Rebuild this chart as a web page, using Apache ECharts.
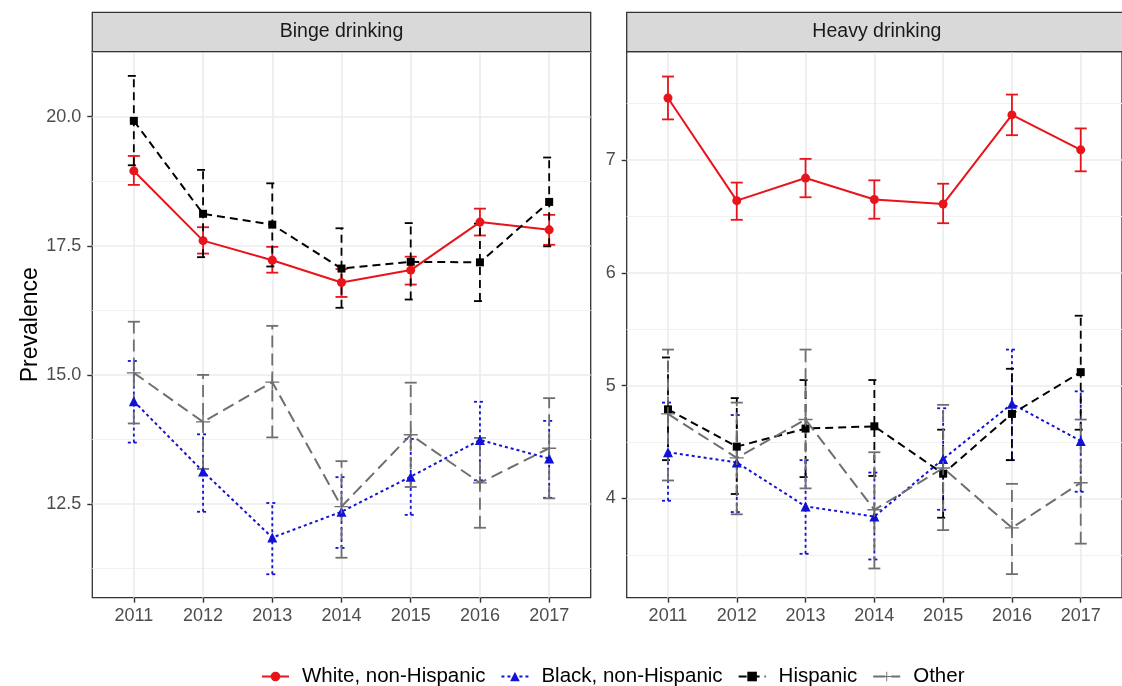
<!DOCTYPE html>
<html><head><meta charset="utf-8">
<script src="https://cdn.jsdelivr.net/npm/echarts@6/dist/echarts.min.js"></script>
<style>html,body{margin:0;padding:0;background:#fff}#c{width:1122px;height:686px}</style>
</head><body><div id="c"></div>
<script>
// ---------- data ----------
const years = [2011, 2012, 2013, 2014, 2015, 2016, 2017];
const groups = ['White, non-Hispanic', 'Black, non-Hispanic', 'Hispanic', 'Other'];
const panels = ['Binge drinking', 'Heavy drinking'];

// Binge drinking
const bingeWhite   = [18.95, 17.60, 17.22, 16.79, 17.03, 17.96, 17.81];
const bingeWhiteLo = [18.68, 17.35, 16.98, 16.51, 16.75, 17.70, 17.52];
const bingeWhiteHi = [19.24, 17.86, 17.48, 17.05, 17.29, 18.22, 18.10];
const bingeBlack   = [14.49, 13.13, 11.85, 12.35, 13.03, 13.74, 13.38];
const bingeBlackLo = [13.69, 12.35, 11.14, 11.65, 12.29, 12.96, 12.62];
const bingeBlackHi = [15.27, 13.85, 12.52, 13.02, 13.76, 14.48, 14.11];
const bingeHisp    = [19.92, 18.12, 17.91, 17.06, 17.19, 17.18, 18.35];
const bingeHispLo  = [19.06, 17.28, 17.10, 16.30, 16.46, 16.43, 17.49];
const bingeHispHi  = [20.79, 18.97, 18.71, 17.84, 17.94, 17.93, 19.21];
const bingeOther   = [15.04, 14.09, 14.86, 12.45, 13.84, 12.91, 13.58];
const bingeOtherLo = [14.06, 13.18, 13.79, 11.46, 12.83, 12.04, 12.61];
const bingeOtherHi = [16.03, 15.00, 15.95, 13.33, 14.85, 13.78, 14.55];

// Heavy drinking
const heavyWhite   = [7.55, 6.64, 6.84, 6.65, 6.61, 7.40, 7.09];
const heavyWhiteLo = [7.36, 6.47, 6.67, 6.48, 6.44, 7.22, 6.90];
const heavyWhiteHi = [7.74, 6.80, 7.01, 6.82, 6.79, 7.58, 7.28];
const heavyBlack   = [4.41, 4.32, 3.93, 3.84, 4.35, 4.84, 4.51];
const heavyBlackLo = [3.98, 3.88, 3.51, 3.46, 3.90, 4.34, 4.06];
const heavyBlackHi = [4.85, 4.74, 4.34, 4.23, 4.80, 5.32, 4.95];
const heavyHisp    = [4.79, 4.46, 4.62, 4.64, 4.22, 4.75, 5.12];
const heavyHispLo  = [4.34, 4.04, 4.19, 4.20, 3.83, 4.34, 4.61];
const heavyHispHi  = [5.25, 4.89, 5.05, 5.05, 4.61, 5.15, 5.62];
const heavyOther   = [4.75, 4.36, 4.70, 3.90, 4.27, 3.74, 4.14];
const heavyOtherLo = [4.16, 3.86, 4.09, 3.38, 3.72, 3.33, 3.60];
const heavyOtherHi = [5.32, 4.85, 5.32, 4.41, 4.83, 4.13, 4.70];

// axis ticks
const bingeTicks = [12.5, 15.0, 17.5, 20.0];
const bingeMinor = [11.25, 13.75, 16.25, 18.75, 21.25];
const heavyTicks = [4, 5, 6, 7];
const heavyMinor = [3.5, 4.5, 5.5, 6.5, 7.5];

// ---------- layout / style ----------
const FONT = 'Liberation Sans, Arial, Helvetica, sans-serif';
const grids = [
  {left: 92.3, top: 51.7, width: 498.4, height: 546},
  {left: 626.7, top: 51.7, width: 500.3, height: 546}
];
const yRange = [[10.686, 21.259], [3.121, 7.96]];
const styles = [
  {color: '#e8141b', dash: 'solid', ldash: null, symbol: 'circle', size: 9},
  {color: '#1212d6', dash: [3, 3], ldash: [3, 3], symbol: 'triangle', size: 10},
  {color: '#000000', dash: [8, 5], ldash: [8, 5], symbol: 'rect', size: 8},
  {color: '#6f6f6f', dash: [12, 6], ldash: [12, 6], symbol: 'path://M0,6.3H14V7.7H0Z M6.3,0H7.7V14H6.3Z', size: 14}
];
const panelData = [
  [[bingeWhite, bingeWhiteLo, bingeWhiteHi], [bingeBlack, bingeBlackLo, bingeBlackHi],
   [bingeHisp, bingeHispLo, bingeHispHi], [bingeOther, bingeOtherLo, bingeOtherHi]],
  [[heavyWhite, heavyWhiteLo, heavyWhiteHi], [heavyBlack, heavyBlackLo, heavyBlackHi],
   [heavyHisp, heavyHispLo, heavyHispHi], [heavyOther, heavyOtherLo, heavyOtherHi]]
];

const xAxes = [], yAxes = [], series = [], graphics = [];
grids.forEach((g, p) => {
  xAxes.push({
    type: 'value', gridIndex: p, min: 2010.4, max: 2017.6,
    axisLine: {show: false},
    axisTick: {show: true, customValues: years, length: 5, lineStyle: {color: '#333', width: 1.4}},
    axisLabel: {customValues: years, fontSize: 18, color: '#4d4d4d', margin: 9, fontFamily: FONT,
                formatter: v => String(Math.round(v))},
    splitLine: {show: true, lineStyle: {color: '#ebebeb', width: 1.6}}
  });
  const ticks = p === 0 ? bingeTicks : heavyTicks;
  const minor = p === 0 ? bingeMinor : heavyMinor;
  yAxes.push({
    type: 'value', gridIndex: p, min: yRange[p][0], max: yRange[p][1], position: 'left',
    axisLine: {show: false},
    axisTick: {show: true, customValues: ticks, length: 5, lineStyle: {color: '#333', width: 1.4}},
    axisLabel: {customValues: ticks, fontSize: 18, color: '#4d4d4d', margin: 11, fontFamily: FONT,
                formatter: v => p === 0 ? v.toFixed(1) : String(Math.round(v))},
    splitLine: {show: true, lineStyle: {color: '#ebebeb', width: 1.6}},
    name: p === 0 ? 'Prevalence' : '', nameLocation: 'middle', nameGap: 48,
    nameTextStyle: {fontSize: 23, color: '#000', fontFamily: FONT}
  });
  yAxes.push({
    type: 'value', gridIndex: p, min: yRange[p][0], max: yRange[p][1], position: 'left',
    axisLine: {show: false}, axisLabel: {show: false},
    axisTick: {show: false, customValues: minor},
    splitLine: {show: true, lineStyle: {color: '#f1f1f1', width: 1.1}}
  });
  // strip
  graphics.push({type: 'rect', z: 10, shape: {x: g.left, y: 12.3, width: g.width, height: g.top - 12.3},
                 style: {fill: '#d9d9d9', stroke: '#333', lineWidth: 1.3}});
  graphics.push({type: 'text', z: 11, x: g.left + g.width / 2, y: (12.3 + g.top) / 2,
                 style: {text: panels[p], fontSize: 19.5, fill: '#1a1a1a', fontFamily: FONT,
                         align: 'center', verticalAlign: 'middle'}});
});

grids.forEach((g, p) => {
  groups.forEach((name, k) => {
    const st = styles[k];
    const lo = panelData[p][k][1], hi = panelData[p][k][2];
    series.push({
      name: name + ' CI', type: 'custom', xAxisIndex: p, yAxisIndex: p * 2, z: 3 + k,
      encode: {x: 0, y: [1, 2]},
      data: years.map((y, i) => [y, lo[i], hi[i]]),
      renderItem: (params, api) => {
        const x = api.value(0);
        const a = api.coord([x, api.value(1)]);
        const b = api.coord([x, api.value(2)]);
        const hw = 6;
        const s = {stroke: st.color, lineWidth: 1.8, lineDash: st.ldash, fill: null};
        return {type: 'group', children: [
          {type: 'line', shape: {x1: a[0], y1: a[1], x2: b[0], y2: b[1]}, style: s},
          {type: 'line', shape: {x1: b[0] - hw, y1: b[1], x2: b[0] + hw, y2: b[1]}, style: s},
          {type: 'line', shape: {x1: a[0] - hw, y1: a[1], x2: a[0] + hw, y2: a[1]}, style: s}
        ]};
      },
      silent: true, animation: false
    });
  });
});
const lineSeries = [];
grids.forEach((g, p) => {
  groups.forEach((name, k) => {
    const vals = panelData[p][k][0];
    const st = styles[k];
    lineSeries.push({
      name: name, type: 'line', xAxisIndex: p, yAxisIndex: p * 2, z: 10 + k,
      data: years.map((y, i) => [y, vals[i]]),
      symbol: st.symbol, symbolSize: st.size, showSymbol: true,
      lineStyle: {color: st.color, width: 2, type: st.dash},
      itemStyle: {color: st.color},
      animation: false
    });
  });
});

const option = {
  animation: false,
  backgroundColor: '#fff',
  textStyle: {fontFamily: FONT},
  grid: grids.map(g => Object.assign({show: true, backgroundColor: '#fff', borderColor: '#333', borderWidth: 1.3}, g)),
  xAxis: xAxes, yAxis: yAxes,
  legend: {
    data: groups, top: 661, left: 256, itemWidth: 27, itemHeight: 12, itemGap: 15,
    textStyle: {fontSize: 20.5, color: '#000', fontFamily: FONT, padding: [0, 0, 0, 8]}
  },
  graphic: graphics,
  series: lineSeries.concat(series)
};
const chart = echarts.init(document.getElementById('c'));
chart.setOption(option);
</script>
</body></html>
